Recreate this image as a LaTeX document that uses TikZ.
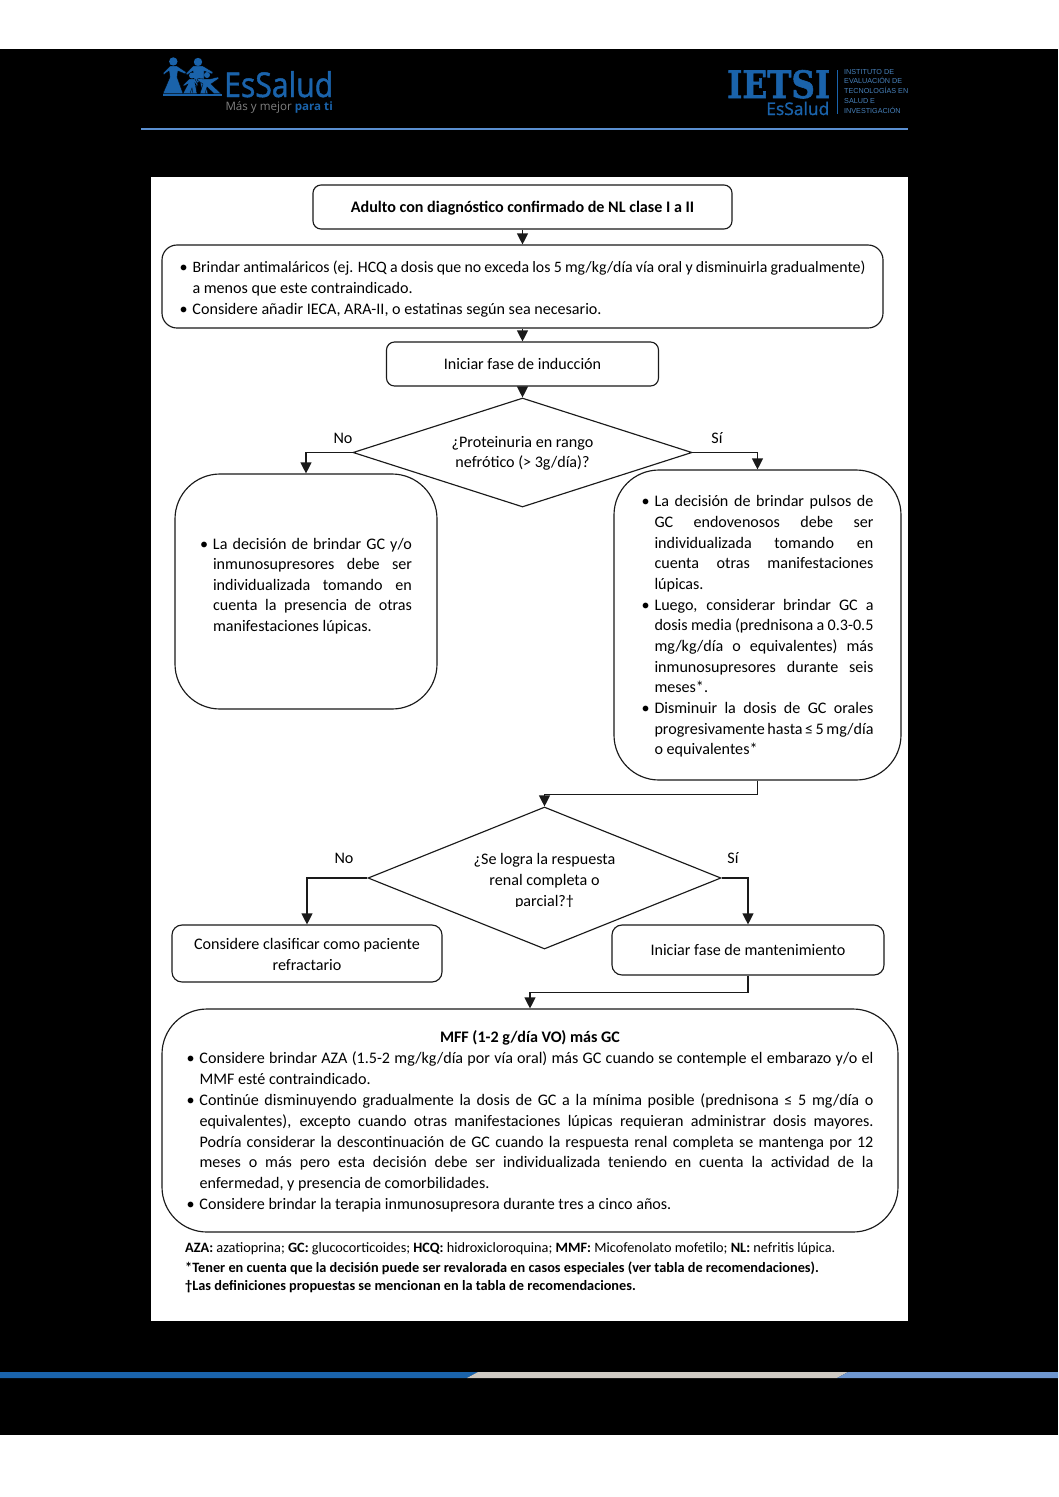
\documentclass[tikz,border=0pt]{standalone}
\usepackage{fontspec}
\usepackage{trimclip}
\setmainfont{Carlito}
\newfontfamily\logosans[RawFeature={embolden=1.3}]{Open Sans}
\newfontfamily\logolema{Open Sans}
\newfontfamily\logoserif[RawFeature={embolden=1.5}]{DejaVu Serif}
\newfontfamily\logothin{Liberation Sans}
\usetikzlibrary{arrows.meta,shapes.geometric}
\definecolor{esblue}{HTML}{1A63AB}
\definecolor{headline}{HTML}{5B8FD0}
\definecolor{bandgrey}{HTML}{CFCAC3}
\definecolor{bandlight}{HTML}{6F97D0}
\definecolor{linecol}{HTML}{1A1A1A}
\newlength\bulind
\setlength\bulind{13pt}
\newcommand\Bj[1]{\hbox to \linewidth{\hbox to \bulind{\textbullet\hss}#1}}
\newcommand\Bn[1]{\hbox to \linewidth{\hbox to \bulind{\textbullet\hss}#1\hfil}}
\newcommand\Ij[1]{\hbox to \linewidth{\hskip\bulind #1}}
\newcommand\In[1]{\hbox to \linewidth{\hskip\bulind #1\hfil}}
% width, top pad, bottom pad, content
\newcommand\bodybox[4]{\begin{minipage}{#1}\vspace*{#2}#4\par\vspace*{#3}\end{minipage}}
\tikzset{
  basefont/.style={font=\fontsize{16.1}{20.6}\selectfont},
  flowbox/.style={draw=linecol,line width=1.15pt,rectangle,inner sep=0pt,align=center,basefont,text=black},
  flowdia/.style={draw=linecol,line width=1.15pt,diamond,inner sep=0pt,align=center,basefont,text=black},
  flowarrow/.style={draw=linecol,line width=1.15pt,-{Stealth[length=11pt,width=11pt,inset=0pt]}},
  branch/.style={basefont,text=black,inner sep=0pt},
  note/.style={font=\fontsize{14.3}{19}\selectfont,text=black,inner sep=0pt,anchor=west},
  figure/.style={fill=esblue,draw=black,line width=0.35pt},
}
\begin{document}
\begin{tikzpicture}[x=1pt,y=-1pt]
\useasboundingbox (0,0) rectangle (1058,1497);
\fill[white] (0,0) rectangle (1058,1497);
\fill[black] (0,49) rectangle (1058,1435);
\fill[white] (151,177) rectangle (908,1321);
% header
\draw[headline,line width=2pt] (141,128.5) -- (908,128.5);
% family icon
\fill[esblue] (173.3,61.5) circle (4.2);
\fill[esblue] (198,62) circle (4.2);
\path[figure] (170,66) -- (177,66) -- (186,72) -- (185.5,74) -- (178,71) -- (177,77) -- (183,93.5) -- (163,93.5) -- (170,77) -- (169,71) -- (164,74.5) -- (163,73) -- cycle;
\path[figure] (193,66) -- (203,66) -- (213,72) -- (212,74) -- (204,71) -- (204,80) -- (208,93.5) -- (203,93.5) -- (200,82) -- (198,82) -- (194,93.5) -- (189,93.5) -- (194,80) -- (193,71) -- (187,75) -- (186,73.5) -- cycle;
\path[figure] (189,79) -- (195,79) -- (198,85) -- (197,86) -- (195,83) -- (197,93.5) -- (193,93.5) -- (192,88) -- (190,93.5) -- (183,93.5) -- (188,84) -- (184,86) -- (183,85) -- cycle;
\path[figure] (204,79) -- (210,79) -- (218,77) -- (219,78.5) -- (211,84) -- (221,93.5) -- (214,93.5) -- (207,87) -- (205,93.5) -- (200,93.5) -- (203,84) -- (197,80) -- (198,78.5) -- cycle;
\fill[esblue] (192,75.5) circle (3);
\fill[esblue] (207,75) circle (3);
\fill[esblue] (163,94) rectangle (222,95.5);
\node[inner sep=0pt,anchor=base west,text=esblue,font=\logosans\fontsize{30}{30}\selectfont] (essalud) at (224,97) {\resizebox{109pt}{26pt}{EsSalud}};
\node[inner sep=0pt,anchor=base east,font=\logolema\fontsize{11.6}{12}\selectfont,text=white!50!black] (lema) at (333,110) {Más y mejor \textcolor{esblue}{\bfseries para ti}};
\node[inner sep=0pt,anchor=base west,text=esblue,font=\logoserif\bfseries\fontsize{30}{30}\selectfont] (ietsi) at (727,98) {\resizebox{103pt}{28pt}{IETSI}};
\node[inner sep=0pt,anchor=base east,text=esblue,font=\logosans\fontsize{18}{18}\selectfont] (ies) at (829.5,115) {\resizebox{63pt}{!}{EsSalud}};
\fill[esblue] (837,70) rectangle (838.2,114);
\node[inner sep=0pt,anchor=north west,align=left,text=esblue!80!white,font=\logothin\fontsize{7.2}{9.7}\selectfont] (instituto) at (844,69) {INSTITUTO DE\\EVALUACIÓN DE\\TECNOLOGÍAS EN\\SALUD E\\INVESTIGACIÓN};
% footer band
\fill[esblue] (0,1372) -- (478,1372) -- (467,1378) -- (0,1378) -- cycle;
\fill[bandgrey] (478,1372) -- (848,1372) -- (837,1378) -- (467,1378) -- cycle;
\fill[bandlight] (848,1372) -- (1058,1372) -- (1058,1378) -- (837,1378) -- cycle;
% nodes
\node[flowbox,rounded corners=8pt,minimum width=419pt,minimum height=44pt] (start) at (522.5,207) {\bodybox{400pt}{3pt}{0pt}{\centering\bfseries Adulto con diagnóstico confirmado de NL clase I a II}};
\node[flowbox,rounded corners=15pt,minimum width=721pt,minimum height=83pt] (anti) at (522.5,286.5) {\bodybox{686pt}{5pt}{0pt}{%
 \Bj{\fontsize{15.85}{20.6}\selectfont Brindar antimaláricos (ej. HCQ a dosis que no exceda los 5 mg/kg/día vía oral y disminuirla gradualmente)}
 \In{a menos que este contraindicado.}
 \Bn{Considere añadir IECA, ARA-II, o estatinas según sea necesario.}}};
\node[flowbox,rounded corners=8pt,minimum width=272pt,minimum height=44pt] (ind) at (522.5,364) {Iniciar fase de inducción};
\node[flowdia,aspect=3.11,minimum width=339pt,minimum height=109pt] (dia1) at (522.5,452.5) {\bodybox{170pt}{2pt}{0pt}{\centering ¿Proteinuria en rango\\nefrótico (> 3g/día)?}};
\node[flowbox,rounded corners=45pt,minimum width=262pt,minimum height=235pt] (left) at (306,591.5) {\bodybox{212pt}{0pt}{11pt}{%
 \Bj{La decisión de brindar GC y/o}
 \Ij{inmunosupresores debe ser}
 \Ij{individualizada tomando en}
 \Ij{cuenta la presencia de otras}
 \In{manifestaciones lúpicas.}}};
\node[flowbox,rounded corners=45pt,minimum width=287pt,minimum height=310pt] (right) at (757.5,625) {\bodybox{232pt}{3pt}{0pt}{\baselineskip=20.67pt
 \Bj{La decisión de brindar pulsos de}
 \Ij{GC endovenosos debe ser}
 \Ij{individualizada tomando en}
 \Ij{cuenta otras manifestaciones}
 \In{lúpicas.}
 \Bj{Luego, considerar brindar GC a}
 \Ij{dosis media (prednisona a 0.3-0.5}
 \Ij{mg/kg/día o equivalentes) más}
 \Ij{inmunosupresores durante seis}
 \In{meses*.}
 \Bj{Disminuir la dosis de GC orales}
 \Ij{progresivamente hasta ≤ 5 mg/día}
 \In{o equivalentes*}}};
\node[flowdia,aspect=2.49,minimum width=353pt,minimum height=142pt] (dia2) at (544.5,878) {\bodybox{170pt}{4pt}{0pt}{\centering ¿Se logra la respuesta\\renal completa o\\\clipbox{0pt 2.5pt 0pt 0pt}{parcial?†}}};
\node[flowbox,rounded corners=10pt,minimum width=270pt,minimum height=57pt] (refr) at (307,953.5) {\bodybox{260pt}{2pt}{0pt}{\centering Considere clasificar como paciente\\refractario}};
\node[flowbox,rounded corners=10pt,minimum width=272pt,minimum height=50pt] (mant) at (748,950) {Iniciar fase de mantenimiento};
\node[flowbox,rounded corners=45pt,minimum width=736pt,minimum height=223pt] (mff) at (530,1120.5) {\bodybox{687pt}{2pt}{0pt}{\baselineskip=20.85pt
 \hbox to \linewidth{\hfil\bfseries MFF (1-2 g/día VO) más GC\hfil}
 \Bj{Considere brindar AZA (1.5-2 mg/kg/día por vía oral) más GC cuando se contemple el embarazo y/o el}
 \In{MMF esté contraindicado.}
 \Bj{Continúe disminuyendo gradualmente la dosis de GC a la mínima posible (prednisona ≤ 5 mg/día o}
 \Ij{equivalentes), excepto cuando otras manifestaciones lúpicas requieran administrar dosis mayores.}
 \Ij{Podría considerar la descontinuación de GC cuando la respuesta renal completa se mantenga por 12}
 \Ij{meses o más pero esta decisión debe ser individualizada teniendo en cuenta la actividad de la}
 \In{enfermedad, y presencia de comorbilidades.}
 \Bn{Considere brindar la terapia inmunosupresora durante tres a cinco años.}}};
% branch labels
\node[branch] (no1) at (343,438) {No};
\node[branch] (si1) at (717,438) {Sí};
\node[branch] (no2) at (344,858) {No};
\node[branch] (si2) at (733,858) {Sí};
% footnotes
\node[note] (n1) at (185,1249) {\textbf{AZA:} azatioprina; \textbf{GC:} glucocorticoides; \textbf{HCQ:} hidroxicloroquina; \textbf{MMF:} Micofenolato mofetilo; \textbf{NL:} nefritis lúpica.};
\node[note] (n2) at (185,1268) {\bfseries *Tener en cuenta que la decisión puede ser revalorada en casos especiales (ver tabla de recomendaciones).};
\node[note] (n3) at (185,1287) {\bfseries †Las definiciones propuestas se mencionan en la tabla de recomendaciones.};
% connectors
\draw[flowarrow] (start) -- (anti);
\draw[flowarrow] (anti) -- (ind);
\draw[flowarrow] (ind) -- (dia1);
\draw[flowarrow] (dia1.west) -| (left.north);
\draw[flowarrow] (dia1.east) -| (right.north);
\draw[flowarrow] (right.south) -- ++(0,14) -| (dia2.north);
\draw[flowarrow] (dia2.west) -| (refr.north);
\draw[flowarrow] (dia2.east) -| (mant.north);
\draw[flowarrow] (mant.south) -- ++(0,17) -| (mff.north);
\end{tikzpicture}
\end{document}
